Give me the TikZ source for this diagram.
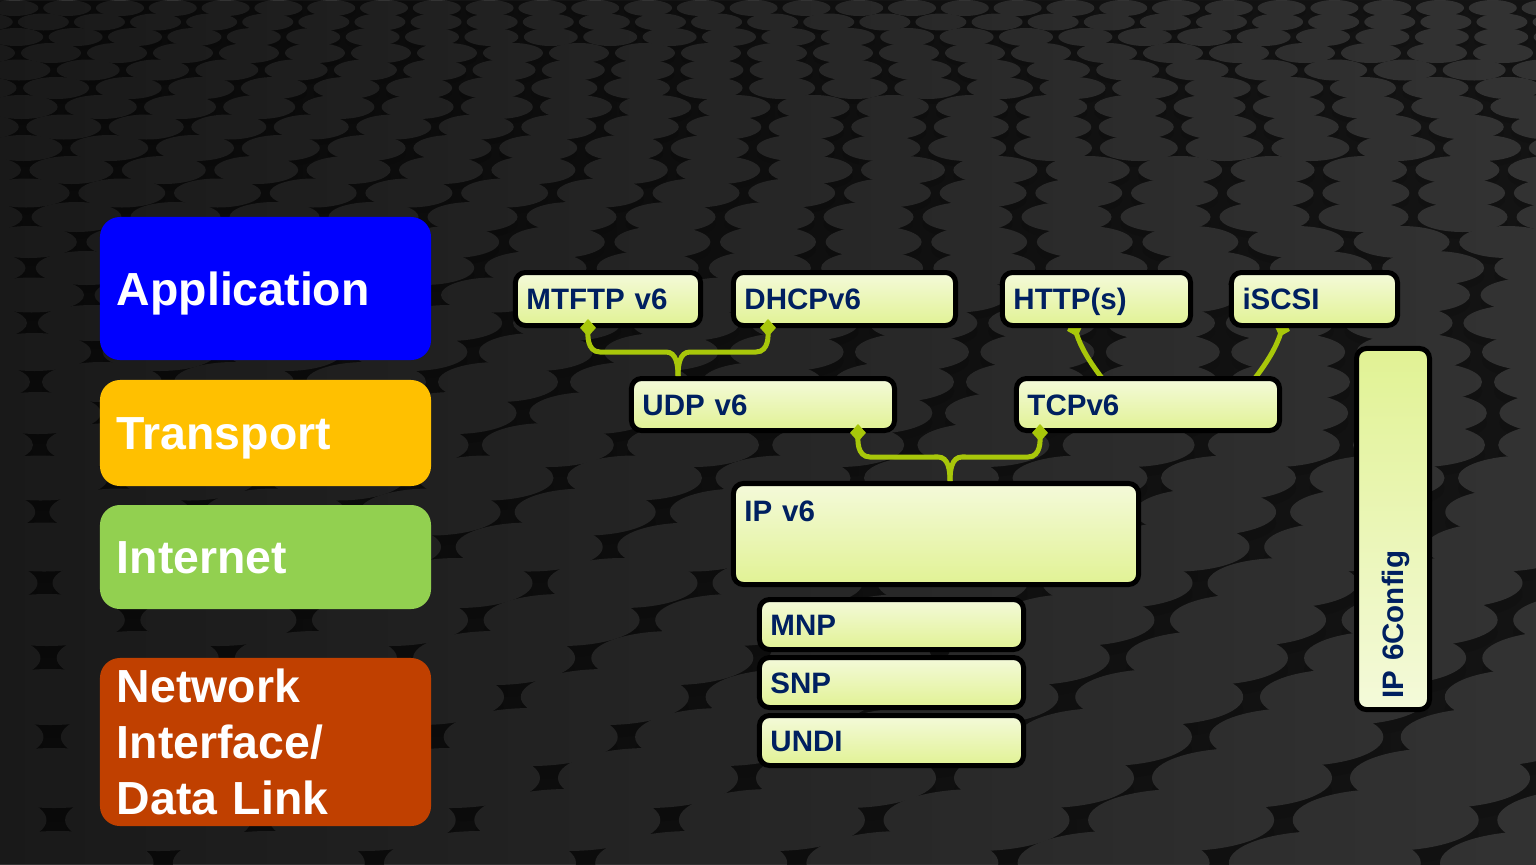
\documentclass[tikz,border=0pt]{standalone}
\usepackage{fontspec}
\setmainfont{Liberation Sans}
\usepackage{tikz}
\tikzset{>=latex}
\usetikzlibrary{arrows.meta}
\usetikzlibrary{calc}
\usetikzlibrary{fadings}
\definecolor{appblue}{HTML}{0000FF}
\definecolor{transportgold}{HTML}{FFC000}
\definecolor{internetgreen}{HTML}{92D050}
\definecolor{linkrust}{HTML}{C04000}
\definecolor{boxtop}{HTML}{F4FADA}
\definecolor{boxbottom}{HTML}{E1F294}
\definecolor{labelnavy}{HTML}{002060}
\definecolor{wire}{HTML}{A8C70A}
\definecolor{slate}{HTML}{141414}
\definecolor{disc}{HTML}{333333}
\definecolor{discshadow}{HTML}{121212}
\pgfdeclarelayer{texture}
\pgfdeclarelayer{behind}
\pgfsetlayers{texture,behind,main}

\begin{document}
\begin{tikzpicture}[x=0.025cm, y=-0.025cm,
        tcpband/.style={rounded corners=5mm, text=white, font=\fontsize{33}{40}\selectfont\bfseries, align=left, text width=74.25mm, inner xsep=4.25mm},
        oneline/.style={text height=24pt, text depth=0pt},
        stackbox/.style={draw=black, line width=1.25mm, rounded corners=2.5mm, top color=boxtop, bottom color=boxbottom, text=labelnavy, font=\fontsize{21}{25}\selectfont\bfseries, align=left, inner xsep=2.75mm, text height=15pt, text depth=0pt},
        wirelink/.style={draw=wire, line width=1.25mm, {Diamond[length=4.4mm, width=4mm]}-}]
            \useasboundingbox (0,0) rectangle (1536,864);
            \begin{pgfonlayer}{texture}
                \clip (0,0) rectangle (1536,864);
                \fill[slate] (-10,-10) rectangle (1546,874);
                \foreach \y/\ry [count=\i] in {8/8, 22/8.5, 37/9, 53/10, 70/10.5, 88/11, 107/12, 127/12.5, 148/13, 170/14, 193/14.5, 217/15, 242/16, 268/17, 295/17.5, 323/18, 352/19, 382/20, 413/21, 445/22, 478/22.5, 512/23.5, 547/24.5, 583/25, 620/26, 658/27, 697/28, 737/29, 778/30, 820/31, 863/32} {
                    \pgfmathsetmacro\rx{3*\ry}
                    \pgfmathsetmacro\shift{mod(\i,2)*1.1*\rx}
                    \pgfmathtruncatemacro\n{1700/(2.2*\rx)}
                    \foreach \k in {0,...,\n} {
                        \fill[discshadow] (\k*2.2*\rx+\shift-0.5*\rx, \y+0.45*\ry) ellipse [x radius=\rx, y radius=\ry];
                        \fill[disc] (\k*2.2*\rx+\shift-0.5*\rx, \y) ellipse [x radius=\rx, y radius=\ry];
                    }
                }
                \fill[black, path fading=east, opacity=0.5] (0,0) rectangle (1536,864);
            \end{pgfonlayer}

            \node[tcpband, oneline, fill=appblue, minimum height=35.75mm] (app) at (265.5,288.5) {Application};
            \node[tcpband, oneline, fill=transportgold, minimum height=26.5mm] (transport) at (265.5,433) {Transport};
            \node[tcpband, oneline, fill=internetgreen, minimum height=26mm] (internet) at (265.5,557) {Internet};
            \node[tcpband, fill=linkrust, minimum height=42mm] (netif) at (265.5,742) {Network\\Interface/\\Data Link};

            \node[stackbox, text width=40.75mm, minimum height=13.25mm] (mtftp) at (608,299) {MTFTP v6};
            \node[stackbox, text width=50mm, minimum height=13.25mm] (dhcp) at (844.5,299) {DHCPv6};
            \node[stackbox, text width=41.5mm, minimum height=13.25mm] (http) at (1096.5,299) {HTTP(s)};
            \node[stackbox, text width=36mm, minimum height=13.25mm] (iscsi) at (1314.5,299) {iSCSI};
            \node[stackbox, text width=60.25mm, minimum height=13mm] (udp) at (763,404.5) {UDP v6};
            \node[stackbox, text width=60.25mm, minimum height=13mm] (tcp) at (1148,404.5) {TCPv6};
            \node[stackbox, text width=95.75mm, minimum height=25.25mm, text depth=33pt] (ip) at (936,534) {IP v6};
            \node[stackbox, text width=60.5mm, minimum height=12.5mm] (mnp) at (891.5,624.5) {MNP};
            \node[stackbox, text width=60.5mm, minimum height=12.5mm] (snp) at (891.5,682.5) {SNP};
            \node[stackbox, text width=60.5mm, minimum height=12.5mm] (undi) at (891.5,740.5) {UNDI};
            \node[stackbox, rotate=90, top color=boxbottom, bottom color=boxtop, text width=84.75mm, minimum height=18.25mm] (config) at (1393,529) {IP 6Config};

            \coordinate (udpjoin) at ($(udp.north)+(-85,0)$);
            \coordinate (ipjoin) at ($(ip.north)+(14,0)$);
            \draw[wirelink] ($(mtftp.south)+(-20,-9)$) to[out=-90,in=180] ++(12,33) -- ($(udpjoin)+(-12,-24)$) to[out=0,in=90] (udpjoin);
            \draw[wirelink] ($(dhcp.south)+(-76.5,-9)$) to[out=-90,in=0] ++(-12,33) -- ($(udpjoin)+(12,-24)$) to[out=180,in=90] (udpjoin);
            \draw[wirelink] ($(udp.south)+(95,-9)$) to[out=-90,in=180] ++(12,33) -- ($(ipjoin)+(-12,-24)$) to[out=0,in=90] (ipjoin);
            \draw[wirelink] ($(tcp.south)+(-108,-9)$) to[out=-90,in=0] ++(-12,33) -- ($(ipjoin)+(12,-24)$) to[out=180,in=90] (ipjoin);
            \begin{pgfonlayer}{behind}
                \draw[wirelink] ($(http.south)+(-24.5,-8)$) to[bend right=10] ($(tcp.north)+(-43,6)$);
                \draw[wirelink] ($(iscsi.south)+(-29.5,-8)$) to[bend left=10] ($(tcp.north)+(104,6)$);
            \end{pgfonlayer}
        \end{tikzpicture}
\end{document}
